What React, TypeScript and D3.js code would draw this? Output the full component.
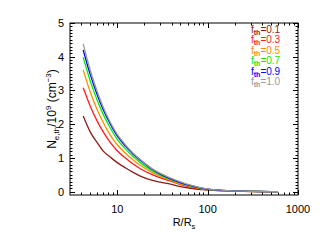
import * as d3 from "d3";
import React, { useEffect, useRef } from "react";

// R/Rs sample points
const radius = [4.2, 5, 6, 7, 8.4, 10, 12.4, 15, 18, 24, 30, 39, 50, 65, 95, 150, 250, 400, 600];

// N_e,th / 1e9 for each f_th
const nF01 = [2.24, 1.78, 1.45, 1.2, 1.02, 0.86, 0.7, 0.57, 0.46, 0.34, 0.28, 0.22, 0.15, 0.1, 0.05, 0.02, 0.008, 0.003, 0];
const nF03 = [3.08, 2.55, 2.09, 1.77, 1.45, 1.21, 0.99, 0.82, 0.68, 0.51, 0.41, 0.31, 0.21, 0.14, 0.06, 0.025, 0.01, 0.003, 0];
const nF05 = [3.61, 2.97, 2.43, 2.05, 1.67, 1.39, 1.13, 0.94, 0.78, 0.58, 0.45, 0.34, 0.23, 0.15, 0.07, 0.03, 0.01, 0.003, 0];
const nF07 = [3.98, 3.3, 2.71, 2.29, 1.88, 1.55, 1.26, 1.04, 0.86, 0.63, 0.49, 0.36, 0.25, 0.16, 0.075, 0.03, 0.012, 0.004, 0];
const nF09 = [4.2, 3.49, 2.87, 2.43, 2.0, 1.65, 1.34, 1.11, 0.93, 0.67, 0.52, 0.38, 0.27, 0.18, 0.08, 0.035, 0.013, 0.004, 0];
const nF10 = [4.38, 3.62, 2.97, 2.5, 2.05, 1.7, 1.38, 1.14, 0.95, 0.69, 0.54, 0.4, 0.29, 0.19, 0.09, 0.04, 0.015, 0.005, 0];

const fLabels = ["0.1", "0.3", "0.5", "0.7", "0.9", "1.0"];
const colors = ["#8b1c1c", "#ff1a1a", "#ff8c00", "#00ee00", "#0000ff", "#999999"];
const yTicks = [0, 1, 2, 3, 4, 5];
const xTicks = [10, 100, 1000];

export default function App() {
  const svgRef = useRef<SVGSVGElement>(null);

  useEffect(() => {
    const svg = d3.select(svgRef.current);
    svg.selectAll("*").remove();

    const left = 70, right = 298, top = 23, bottom = 195;
    const font = "'Liberation Sans', Arial, sans-serif";

    const x = d3.scaleLog().domain([3, 1000]).range([left, right]);
    const y = d3.scaleLinear().domain([-0.1, 5]).range([bottom, top]);

    svg.append("rect").attr("width", 320).attr("height", 240).attr("fill", "#fff");

    // curves
    const series = [nF01, nF03, nF05, nF07, nF09, nF10];
    const line = d3
      .line<number>()
      .x((_, i) => x(radius[i]))
      .y((d) => y(d))
      .curve(d3.curveMonotoneX);
    series.forEach((s, k) => {
      svg.append("path")
        .datum(s)
        .attr("fill", "none")
        .attr("stroke", colors[k])
        .attr("stroke-width", 1.3)
        .attr("d", line);
    });

    // frame
    svg.append("rect")
      .attr("x", left).attr("y", top)
      .attr("width", right - left).attr("height", bottom - top)
      .attr("fill", "none").attr("stroke", "#000").attr("stroke-width", 1);

    const ticks = svg.append("g").attr("stroke", "#000").attr("stroke-width", 1);

    // x ticks (log) bottom and top, pointing inward
    const xMinor: number[] = [];
    [1, 10, 100].forEach((dec) => {
      for (let m = 2; m <= 9; m++) {
        const v = m * dec;
        if (v > 3 && v < 1000 && v !== 10 && v !== 100) xMinor.push(v);
      }
    });
    xMinor.forEach((v) => {
      const px = Math.round(x(v)) + 0.5;
      ticks.append("line").attr("x1", px).attr("x2", px).attr("y1", bottom).attr("y2", bottom - 2.5);
      ticks.append("line").attr("x1", px).attr("x2", px).attr("y1", top).attr("y2", top + 2.5);
    });
    xTicks.forEach((v) => {
      const px = Math.round(x(v)) + 0.5;
      ticks.append("line").attr("x1", px).attr("x2", px).attr("y1", bottom).attr("y2", bottom - 5);
      ticks.append("line").attr("x1", px).attr("x2", px).attr("y1", top).attr("y2", top + 5);
    });

    // y ticks left and right
    d3.range(0, 51).map((i) => i / 10).forEach((v) => {
      const py = Math.round(y(v)) + 0.5;
      const len = Number.isInteger(v) ? 5 : 2.5;
      ticks.append("line").attr("x1", left).attr("x2", left + len).attr("y1", py).attr("y2", py);
      ticks.append("line").attr("x1", right).attr("x2", right - len).attr("y1", py).attr("y2", py);
    });

    // tick labels
    svg.append("g")
      .selectAll("text")
      .data(yTicks)
      .join("text")
      .attr("x", 64)
      .attr("y", (d) => y(d) + 4)
      .attr("text-anchor", "end")
      .attr("font-family", font)
      .attr("font-size", 11)
      .text((d) => d);

    svg.append("g")
      .selectAll("text")
      .data(xTicks)
      .join("text")
      .attr("x", (d) => x(d))
      .attr("y", 213)
      .attr("text-anchor", "middle")
      .attr("font-family", font)
      .attr("font-size", 11)
      .text((d) => d);

    // x title
    const xt = svg.append("text")
      .attr("x", 184).attr("y", 226)
      .attr("text-anchor", "middle")
      .attr("font-family", font)
      .attr("font-size", 11);
    xt.append("tspan").text("R/R");
    xt.append("tspan").attr("dy", 2.5).attr("font-size", 7.5).text("s");

    // y title
    const yt = svg.append("text")
      .attr("transform", `translate(56,${(top + bottom) / 2}) rotate(-90)`)
      .attr("text-anchor", "middle")
      .attr("font-family", font)
      .attr("font-size", 12);
    yt.append("tspan").text("N");
    yt.append("tspan").attr("dy", 3).attr("font-size", 8).text("e,th");
    yt.append("tspan").attr("dy", -3).text("/10");
    yt.append("tspan").attr("dy", -5).attr("font-size", 8).text("9");
    yt.append("tspan").attr("dy", 5).text(" (cm");
    yt.append("tspan").attr("dy", -5).attr("font-size", 8).text("\u22123");
    yt.append("tspan").attr("dy", 5).text(")");

    // legend
    fLabels.forEach((lab, i) => {
      const t = svg.append("text")
        .attr("x", 251)
        .attr("y", 33 + i * 10.4)
        .attr("fill", colors[i])
        .attr("font-family", font)
        .attr("font-size", 10);
      t.append("tspan").text("f");
      t.append("tspan").attr("dy", 2).attr("font-size", 7).attr("font-weight", "bold").text("th");
      t.append("tspan").attr("dy", -2).text("=" + lab);
    });
  }, []);

  return (
    <svg
      ref={svgRef}
      width={320}
      height={240}
      style={{ position: "absolute", left: 0, top: 0 }}
    />
  );
}
